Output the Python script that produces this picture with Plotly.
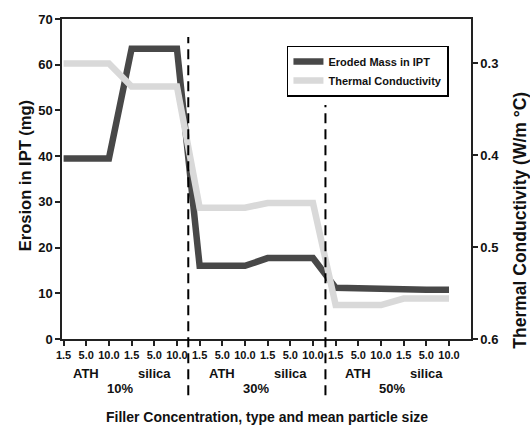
import plotly.graph_objects as go

# ---- data ----
positions = list(range(18))
tick_labels = ["1.5", "5.0", "10.0"] * 6
filler_types = ["ATH", "silica", "ATH", "silica", "ATH", "silica"]
type_centers = [1, 4, 7, 10, 13, 16]
concentrations = ["10%", "30%", "50%"]
conc_centers = [2.5, 8.5, 14.5]
separators = [5.5, 11.55]

eroded_mass = [39.5, 39.5, 39.5, 63.5, 63.5, 63.5,
               16.0, 16.0, 16.0, 17.7, 17.7, 17.7,
               11.2, 11.2, 11.2, 10.9, 10.8, 10.8]
thermal_cond = [0.300, 0.300, 0.300, 0.325, 0.325, 0.325,
                0.457, 0.457, 0.457, 0.452, 0.452, 0.452,
                0.563, 0.563, 0.563, 0.556, 0.556, 0.556]

FONT = "Liberation Sans, Arial, sans-serif"
AX = "#222222"

fig = go.Figure()
fig.add_trace(go.Scatter(
    x=positions, y=thermal_cond, yaxis="y2", mode="lines",
    name="Thermal Conductivity", legendrank=2,
    line=dict(color="#d9d9d9", width=6.5),
))
fig.add_trace(go.Scatter(
    x=positions, y=eroded_mass, mode="lines",
    name="Eroded Mass in IPT", legendrank=1,
    line=dict(color="#484848", width=6.5),
))

# dashed separators
sep_tops = [0.944, 0.731]
for xs, top in zip(separators, sep_tops):
    fig.add_shape(type="line", xref="x", yref="paper",
                  x0=xs, x1=xs, y0=-0.176, y1=top,
                  line=dict(color="black", width=2, dash="10px,6px"))

def ann(x, y, text, size, xref="x", angle=0):
    return dict(x=x, y=y, xref=xref, yref="paper", text=text, showarrow=False,
                xanchor="center", yanchor="middle", textangle=angle,
                font=dict(size=size, family=FONT, weight="bold", color="#111"))

annotations = []
for lbl, c in zip(filler_types, type_centers):
    annotations.append(ann(c, -0.108, lbl, 13))
for lbl, c in zip(concentrations, conc_centers):
    annotations.append(ann(c, -0.155, lbl, 13))
annotations.append(ann(0.5, -0.245, "Filler Concentration, type and mean particle size", 14, xref="paper"))
annotations.append(ann(-0.0905, 0.512, "Erosion in IPT (mg)", 16.5, xref="paper", angle=-90))
annotations.append(ann(1.12, 0.37, "Thermal Conductivity (W/m °C)", 17.5, xref="paper", angle=-90))

fig.update_layout(
    width=530, height=425,
    margin=dict(l=62, r=59, t=15, b=86),
    paper_bgcolor="white", plot_bgcolor="white",
    font=dict(family=FONT, color="#111"),
    showlegend=True,
    legend=dict(x=0.55, y=0.917, xanchor="left", yanchor="top",
                bordercolor="black", borderwidth=1.5, bgcolor="white",
                font=dict(size=11, family=FONT, weight="bold"),
                tracegroupgap=0, itemwidth=30),
    xaxis=dict(range=[-0.07, 17.97], tickmode="array", tickvals=positions, ticktext=tick_labels,
               ticks="outside", ticklen=5, tickwidth=1.5, tickcolor=AX,
               showline=True, linecolor=AX, linewidth=1.5, mirror=True,
               showgrid=False, zeroline=False,
               tickfont=dict(size=11, family=FONT, weight="bold")),
    yaxis=dict(range=[0, 70], dtick=10, ticks="outside", ticklen=5, tickwidth=1.5, tickcolor=AX,
               showline=True, linecolor=AX, linewidth=1.5, showgrid=False, zeroline=False,
               tickfont=dict(size=13, family=FONT, weight="bold")),
    yaxis2=dict(range=[0.6, 0.2516], overlaying="y", side="right",
                tickvals=[0.3, 0.4, 0.5, 0.6], tickformat=".1f",
                ticks="outside", ticklen=5, tickwidth=1.5, tickcolor=AX,
                showline=True, linecolor=AX, linewidth=1.5, showgrid=False, zeroline=False,
                tickfont=dict(size=13, family=FONT, weight="bold")),
    annotations=annotations,
)

fig.write_html("out.html")
